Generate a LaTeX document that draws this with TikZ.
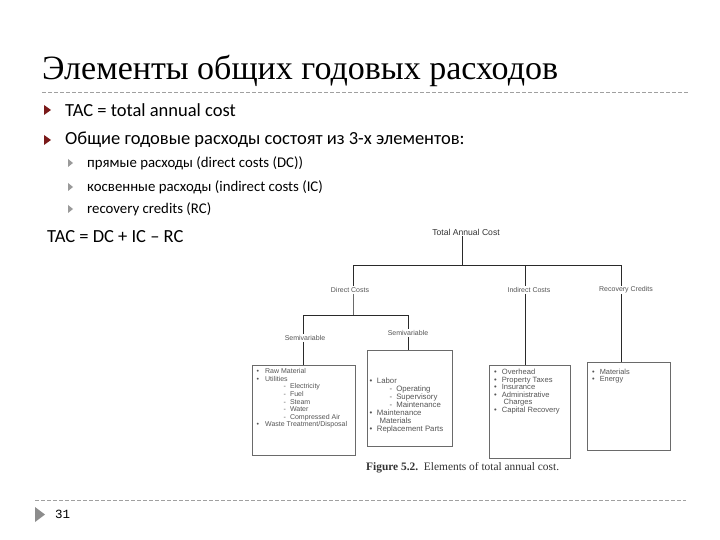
\documentclass[tikz,border=0pt]{standalone}
\usepackage{fontspec}
\setmainfont{Liberation Serif}
\newfontfamily\bodyfont{Carlito}
\newfontfamily\figfont{Liberation Sans}
\newfontfamily\capfont{Liberation Serif}
\newfontfamily\pgnfont{Liberation Mono}
\definecolor{bulletred}{HTML}{7A1A1A}
\definecolor{subgray}{HTML}{9A9A9A}
\definecolor{dashgray}{HTML}{A0A0A0}
\definecolor{figtext}{HTML}{555555}
\definecolor{figline}{HTML}{2A2A2A}
\definecolor{boxline}{HTML}{6A6A6A}
\tikzset{
  title/.style={anchor=base west, inner sep=0pt, font=\fontsize{34}{38}\selectfont},
  mainitem/.style={anchor=west, inner sep=0pt, font=\bodyfont\fontsize{18.5}{21}\selectfont},
  subitem/.style={anchor=west, inner sep=0pt, font=\bodyfont\fontsize{14.8}{17}\selectfont},
  redbullet/.style={fill=bulletred, draw=none},
  graybullet/.style={fill=subgray, draw=none},
  rule/.style={draw=dashgray, dash pattern=on 4pt off 2pt, line width=0.8pt},
  lbl/.style={inner sep=1pt, text=figtext, font=\figfont\fontsize{7}{8}\selectfont},
  tree/.style={draw=figline, line width=0.9pt},
  fbox/.style={draw=boxline, line width=0.6pt, anchor=north west, inner sep=0pt},
  boxtxt/.style={anchor=north west, inner sep=0pt, align=left, text=figtext, font=\figfont\fontsize{7}{7.6}\selectfont},
}
\begin{document}
\begin{tikzpicture}[x=1pt,y=-1pt]
\useasboundingbox[fill=white] (0,0) rectangle (720,540);

% title and rules
\node[title] (ttl) at (42,80) {Элементы общих годовых расходов};
\coordinate (r1a) at (42,92);
\coordinate (r1b) at (688,92);
\draw[rule] (r1a) -- (r1b);

% main bullets
\fill[redbullet] (44,105) -- (51,110) -- (44,115) -- cycle;
\node[mainitem] (m1) at (65,110) {TAC = total annual cost};
\fill[redbullet] (44,135) -- (51,140) -- (44,145) -- cycle;
\node[mainitem] (m2) at (65,140) {Общие годовые расходы состоят из 3-х элементов:};

% sub bullets
\fill[graybullet] (68,159) -- (73,163) -- (68,167) -- cycle;
\node[subitem] (s1) at (87,163) {прямые расходы (direct costs (DC))};
\fill[graybullet] (68,183) -- (73,187) -- (68,191) -- cycle;
\node[subitem] (s2) at (87,187) {косвенные расходы (indirect costs (IC)};
\fill[graybullet] (68,205) -- (73,209) -- (68,213) -- cycle;
\node[subitem] (s3) at (87,209) {recovery credits (RC)};

\node[mainitem] (eq) at (47,237) {TAC = DC + IC – RC};

% figure tree
\node[lbl, font=\figfont\fontsize{8.6}{9}\selectfont, text=black!80] (tac) at (466,232) {Total Annual Cost};
\coordinate (b0) at (462,265);
\coordinate (b1) at (353,265);
\coordinate (b2) at (525,265);
\coordinate (b3) at (621,265);
\draw[tree] (tac.south -| b0) -- (b0);
\draw[tree] (b1) -- (b3);

\node[lbl] (dc) at (350,290) {Direct Costs};
\node[lbl] (ic) at (529,290) {Indirect Costs};
\node[lbl] (rc) at (626,290) {Recovery Credits};
\draw[tree] (b1) -- (b1 |- dc.north);
\draw[tree] (b2) -- (b2 |- ic.north);
\draw[tree] (b3) -- (b3 |- rc.north);

\coordinate (j1) at (353,315);
\coordinate (j2) at (303,315);
\coordinate (j3) at (408,315);
\draw[tree, line width=0.5pt, draw=figline!70] (b1 |- dc.south) -- (j1);
\draw[tree] (j2) -- (j3);

\node[lbl] (sv1) at (305,338) {Semivariable};
\node[lbl] (sv2) at (408,333) {Semivariable};
\draw[tree, line width=0.6pt] (j2) -- (j2 |- sv1.north);
\draw[tree] (j3) -- (j3 |- sv2.north);

% boxes
\node[fbox, minimum width=103pt, minimum height=90pt] (box1) at (252,365) {};
\node[fbox, minimum width=85pt, minimum height=96pt] (box2) at (367,350) {};
\node[fbox, minimum width=81pt, minimum height=93pt] (box3) at (489,365) {};
\node[fbox, minimum width=83pt, minimum height=88pt] (box4) at (587,362) {};

\draw[tree] (j2 |- sv1.south) -- (j2 |- box1.north);
\draw[tree] (j3 |- sv2.south) -- (j3 |- box2.north);
\draw[tree] (b2 |- ic.south) -- (b2 |- box3.north);
\draw[tree] (b3 |- rc.south) -- (b3 |- box4.north);

\node[boxtxt] (t1) at (256.5,368.5) {%
\textbullet\hspace{6pt}Raw Material\\
\textbullet\hspace{6pt}Utilities\\
\hspace{27pt}-\hspace{4pt}Electricity\\
\hspace{27pt}-\hspace{4pt}Fuel\\
\hspace{27pt}-\hspace{4pt}Steam\\
\hspace{27pt}-\hspace{4pt}Water\\
\hspace{27pt}-\hspace{4pt}Compressed Air\\
\textbullet\hspace{6pt}Waste Treatment/Disposal};

\node[boxtxt, font=\figfont\fontsize{7.8}{7.8}\selectfont] (t2) at (369.5,378) {%
\textbullet\hspace{4.5pt}Labor\\
\hspace{20pt}-\hspace{4pt}Operating\\
\hspace{20pt}-\hspace{4pt}Supervisory\\
\hspace{20pt}-\hspace{4pt}Maintenance\\[0.6pt]
\textbullet\hspace{4.5pt}Maintenance\\
\hspace{10pt}Materials\\[0.6pt]
\textbullet\hspace{4.5pt}Replacement Parts};

\node[boxtxt, font=\figfont\fontsize{7.6}{7.5}\selectfont] (t3) at (494,369) {%
\textbullet\hspace{5pt}Overhead\\
\textbullet\hspace{5pt}Property Taxes\\
\textbullet\hspace{5pt}Insurance\\
\textbullet\hspace{5pt}Administrative\\
\hspace{9.5pt}Charges\\
\textbullet\hspace{5pt}Capital Recovery};

\node[boxtxt, font=\figfont\fontsize{7.4}{7.6}\selectfont] (t4) at (592,368.5) {%
\textbullet\hspace{5pt}Materials\\
\textbullet\hspace{5pt}Energy};

\node[anchor=base west, inner sep=0pt, text=black!80, font=\capfont\fontsize{11.4}{13}\selectfont] (cap) at (366,470) {\textbf{Figure 5.2.}\ \ Elements of total annual cost.};

% footer
\coordinate (r2a) at (35,500);
\coordinate (r2b) at (686,500);
\draw[rule] (r2a) -- (r2b);
\fill[gray!90] (35,507) -- (45,514.5) -- (35,522) -- cycle;
\node[anchor=west, inner sep=0pt, font=\pgnfont\fontsize{12.5}{14}\selectfont] (pg) at (55,514) {31};
\end{tikzpicture}
\end{document}
